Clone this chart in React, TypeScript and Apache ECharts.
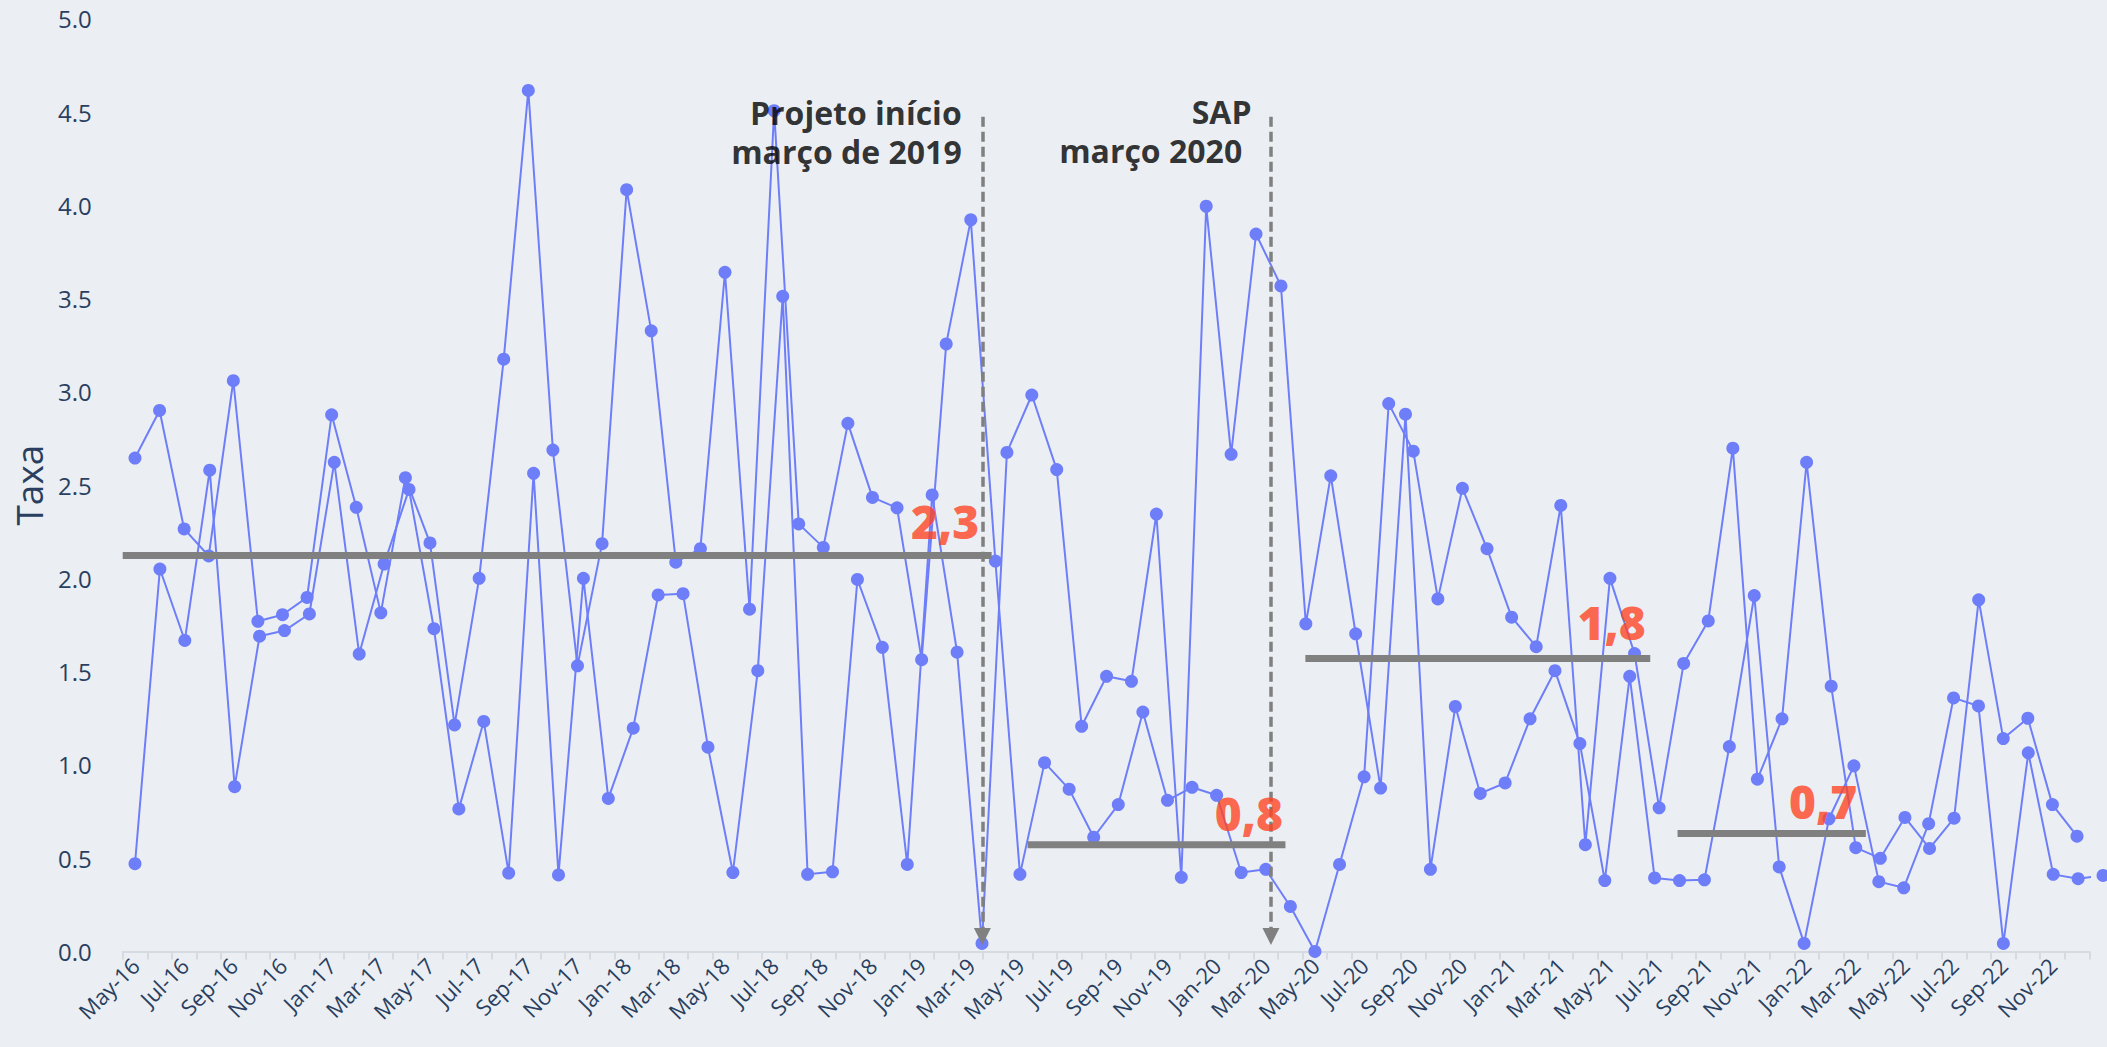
import React, { useEffect, useRef } from "react";
import * as echarts from "echarts";

// ---------- DATA ----------
const months = [
  "May-16", "Jun-16", "Jul-16", "Aug-16", "Sep-16", "Oct-16", "Nov-16", "Dec-16",
  "Jan-17", "Feb-17", "Mar-17", "Apr-17", "May-17", "Jun-17", "Jul-17", "Aug-17", "Sep-17", "Oct-17", "Nov-17", "Dec-17",
  "Jan-18", "Feb-18", "Mar-18", "Apr-18", "May-18", "Jun-18", "Jul-18", "Aug-18", "Sep-18", "Oct-18", "Nov-18", "Dec-18",
  "Jan-19", "Feb-19", "Mar-19", "Apr-19", "May-19", "Jun-19", "Jul-19", "Aug-19", "Sep-19", "Oct-19", "Nov-19", "Dec-19",
  "Jan-20", "Feb-20", "Mar-20", "Apr-20", "May-20", "Jun-20", "Jul-20", "Aug-20", "Sep-20", "Oct-20", "Nov-20", "Dec-20",
  "Jan-21", "Feb-21", "Mar-21", "Apr-21", "May-21", "Jun-21", "Jul-21", "Aug-21", "Sep-21", "Oct-21", "Nov-21", "Dec-21",
  "Jan-22", "Feb-22", "Mar-22", "Apr-22", "May-22", "Jun-22", "Jul-22", "Aug-22", "Sep-22", "Oct-22", "Nov-22", "Dec-22",
];

// first rate series (one value per month, mid-month)
const seriesA = [
  2.645, 2.9, 2.265, 2.12, 3.06, 1.77, 1.805, 1.898,
  2.877, 2.381, 1.815, 2.54, 2.19, 1.214, 2.0, 3.175, 4.616, 2.688, 1.531, 2.186,
  4.084, 3.327, 2.087, 2.159, 3.641, 1.835, 4.507, 2.292, 2.166, 2.831, 2.434, 2.378,
  1.564, 3.257, 3.922, 2.093, 0.413, 1.012, 0.87, 0.612, 0.787, 1.283, 0.81, 0.88,
  0.837, 0.423, 0.44, 0.241, 0.0, 0.466, 0.936, 2.937, 2.682, 1.89, 2.483, 2.159,
  1.792, 1.634, 2.391, 0.572, 2.0, 1.597, 0.77, 1.544, 1.772, 2.698, 0.923, 1.247,
  2.622, 1.422, 0.556, 0.499, 0.718, 0.552, 0.714, 1.885, 1.141, 1.25, 0.787, 0.618,
];

// second rate series (sampled every ~30.9 days)
const seriesB = [
  0.47, 2.05, 1.667, 2.58, 0.883, 1.69, 1.72, 1.809,
  2.622, 1.594, 2.077, 2.477, 1.73, 0.764, 1.233, 0.42, 2.563, 0.41, 2.0, 0.82,
  1.197, 1.911, 1.918, 1.095, 0.423, 1.505, 3.512, 0.413, 0.427, 1.994, 1.63, 0.466,
  2.447, 1.604, 0.043, 2.675, 2.983, 2.583, 1.207, 1.475, 1.448, 2.345, 0.397, 3.995,
  2.665, 3.846, 3.568, 1.756, 2.55, 1.703, 0.876, 2.88, 0.44, 1.313, 0.847, 0.903,
  1.247, 1.505, 1.114, 0.38, 1.475, 0.394, 0.38, 0.384, 1.098, 1.908, 0.453, 0.043,
  0.711, 0.995, 0.374, 0.341, 0.685, 1.359, 1.316, 0.043, 1.065, 0.413, 0.39, 0.407,
];
const seriesBStepMonths = 1.0134;

// period averages
const meanValues = [2.123, 0.572, 1.571, 0.632];
const meanFrom = [0, 36.81, 48.11, 63.25];
const meanTo = [35.35, 47.3, 62.14, 70.91];
const meanTexts = ["2,3", "0,8", "1,8", "0,7"];

// events
const eventMonths = [34.97, 46.71];
const eventTexts = ["Projeto início", "março de 2019", "SAP", "março 2020"];

const yTicks = [0, 0.5, 1, 1.5, 2, 2.5, 3, 3.5, 4, 4.5, 5];

// ---------- STYLE / LAYOUT ----------
const W = 2107;
const H = 1047;
const BG = "#EBEFF3";
const BLUE = "#6E7EF9";
const GRAY = "#808080";
const TXT = "#2a3f5f";
const RED = "#ff4422";
const FONT = "'Open Sans', sans-serif";

const meanLabelAt = [
  [34.84, 2.31],
  [47.2, 0.741],
  [61.95, 1.766],
  [70.56, 0.806],
];
const eventTextAt = [
  [34.13, 4.4956],
  [34.13, 4.2864],
  [45.92, 4.5026],
  [45.54, 4.2934],
];

export default function App() {
  const ref = useRef<HTMLDivElement | null>(null);

  useEffect(() => {
    if (!ref.current) return;
    const chart = echarts.init(ref.current, null, { renderer: "svg", width: W, height: H });

    const dataA = seriesA.map((v, i) => [i + 0.5, v]);
    const dataB = seriesB.map((v, i) => [0.5 + i * seriesBStepMonths, v]);

    const rateSeries = (name: string, data: number[][]) => ({
      type: "line",
      name,
      xAxisIndex: 1,
      yAxisIndex: 0,
      data,
      symbol: "circle",
      symbolSize: 13,
      showSymbol: true,
      clip: false,
      lineStyle: { color: BLUE, width: 2 },
      itemStyle: { color: BLUE },
      emphasis: { disabled: true },
      silent: true,
      z: 2,
    });

    const meanSeries = meanValues.map((v, i) => ({
      type: "line",
      xAxisIndex: 1,
      yAxisIndex: 0,
      data: [
        [meanFrom[i], v],
        [meanTo[i], v],
      ],
      symbol: "none",
      showSymbol: false,
      lineStyle: { color: GRAY, width: 7, cap: "butt" },
      silent: true,
      z: 3,
      ...(i === 0
        ? {
            markLine: {
              silent: true,
              symbol: ["none", "triangle"],
              symbolSize: 17,
              label: { show: false },
              emphasis: { disabled: true },
              lineStyle: { color: GRAY, width: 3.5, type: [10, 5], opacity: 1 },
              data: eventMonths.map((x) => [{ coord: [x, 4.475] }, { coord: [x, 0.08] }]),
              z: 4,
            },
          }
        : {}),
    }));

    const meanLabelSeries = {
      type: "scatter",
      xAxisIndex: 1,
      yAxisIndex: 0,
      symbolSize: 1,
      itemStyle: { color: "rgba(0,0,0,0)" },
      silent: true,
      z: 6,
      data: meanTexts.map((t, i) => ({ value: meanLabelAt[i], label: { formatter: t } })),
      label: {
        show: true,
        position: "inside",
        align: "right",
        verticalAlign: "middle",
        fontSize: 46,
        lineHeight: 46,
        fontWeight: 800,
        color: RED,
        fontFamily: FONT,
      },
    };

    const eventLabelSeries = {
      type: "scatter",
      xAxisIndex: 1,
      yAxisIndex: 0,
      symbolSize: 1,
      itemStyle: { color: "rgba(0,0,0,0)" },
      silent: true,
      z: 6,
      data: eventTexts.map((t, i) => ({ value: eventTextAt[i], label: { formatter: t } })),
      label: {
        show: true,
        position: "inside",
        align: "right",
        verticalAlign: "middle",
        fontSize: 32,
        lineHeight: 33,
        fontWeight: "bold",
        color: "#000000",
        fontFamily: FONT,
      },
    };

    const option = {
      animation: false,
      backgroundColor: BG,
      textStyle: { fontFamily: FONT },
      grid: { left: 122.7, right: 17.7, top: 18.8, bottom: 95.6, containLabel: false },
      xAxis: [
        {
          type: "category",
          data: months,
          boundaryGap: true,
          position: "bottom",
          axisLine: { show: true, lineStyle: { color: "#d6dbe1", width: 2 } },
          axisTick: { show: true, interval: 0, length: 8, lineStyle: { color: "#d6dbe1", width: 2 } },
          axisLabel: { interval: 1, rotate: 45, fontSize: 22, color: TXT, margin: 10, fontFamily: FONT },
          splitLine: { show: false },
        },
        { type: "value", min: 0, max: 80, show: false, position: "top" },
      ],
      yAxis: [
        {
          type: "value",
          min: 0,
          max: 5,
          interval: 0.5,
          axisLine: { show: false },
          axisTick: { show: false },
          splitLine: { show: false },
          axisLabel: {
            formatter: (v: number) => (yTicks.includes(v) ? v.toFixed(1) : ""),
            fontSize: 24,
            color: TXT,
            margin: 31,
            fontFamily: FONT,
          },
          name: "Taxa",
          nameLocation: "middle",
          nameGap: 68,
          nameTextStyle: { fontSize: 37, color: TXT, fontFamily: FONT },
        },
      ],
      series: [
        rateSeries("A", dataA),
        rateSeries("B", dataB),
        ...meanSeries,
        meanLabelSeries,
        eventLabelSeries,
      ],
    };

    chart.setOption(option as any);
    return () => chart.dispose();
  }, []);

  return (
    <div style={{ position: "fixed", left: 0, top: 0, width: W, height: H, background: BG }}>
      <div ref={ref} style={{ width: W, height: H }} />
    </div>
  );
}
